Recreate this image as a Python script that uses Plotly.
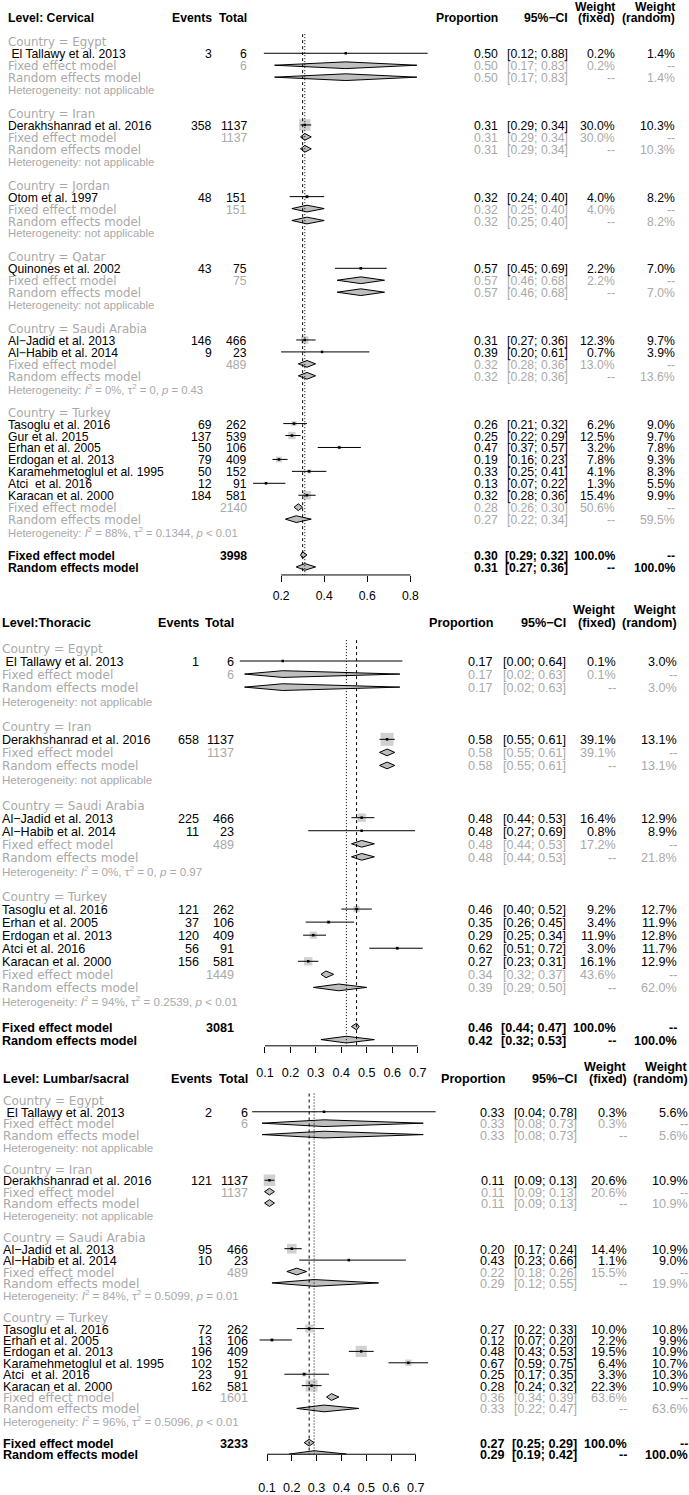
import math
import plotly.graph_objects as go

W, H = 689, 1495
NB = "\u00a0"
MINUS = "\u2212"

# ---------------- data ----------------
# (country, study, events, total, proportion, ci_low, ci_high, weight_fixed, weight_random)
CERV_STUDIES = [
    ("Egypt", NB + "El Tallawy et al. 2013", 3, 6, 0.50, 0.12, 0.88, 0.2, 1.4),
    ("Iran", "Derakhshanrad et al. 2016", 358, 1137, 0.31, 0.29, 0.34, 30.0, 10.3),
    ("Jordan", "Otom et al. 1997", 48, 151, 0.32, 0.24, 0.40, 4.0, 8.2),
    ("Qatar", "Quinones et al. 2002", 43, 75, 0.57, 0.45, 0.69, 2.2, 7.0),
    ("Saudi Arabia", "Al" + MINUS + "Jadid et al. 2013", 146, 466, 0.31, 0.27, 0.36, 12.3, 9.7),
    ("Saudi Arabia", "Al" + MINUS + "Habib et al. 2014", 9, 23, 0.39, 0.20, 0.61, 0.7, 3.9),
    ("Turkey", "Tasoglu et al. 2016", 69, 262, 0.26, 0.21, 0.32, 6.2, 9.0),
    ("Turkey", "Gur et al. 2015", 137, 539, 0.25, 0.22, 0.29, 12.5, 9.7),
    ("Turkey", "Erhan et al. 2005", 50, 106, 0.47, 0.37, 0.57, 3.2, 7.8),
    ("Turkey", "Erdogan et al. 2013", 79, 409, 0.19, 0.16, 0.23, 7.8, 9.3),
    ("Turkey", "Karamehmetoglul et al. 1995", 50, 152, 0.33, 0.25, 0.41, 4.1, 8.3),
    ("Turkey", "Atci" + NB + " et al. 2016", 12, 91, 0.13, 0.07, 0.22, 1.3, 5.5),
    ("Turkey", "Karacan et al. 2000", 184, 581, 0.32, 0.28, 0.36, 15.4, 9.9),
]
# (country, total, FE est, FE low, FE high, FE weight, RE est, RE low, RE high, RE weight, heterogeneity)
CERV_GROUPS = [
    ("Egypt", 6, 0.50, 0.17, 0.83, 0.2, 0.50, 0.17, 0.83, 1.4, None),
    ("Iran", 1137, 0.31, 0.29, 0.34, 30.0, 0.31, 0.29, 0.34, 10.3, None),
    ("Jordan", 151, 0.32, 0.25, 0.40, 4.0, 0.32, 0.25, 0.40, 8.2, None),
    ("Qatar", 75, 0.57, 0.46, 0.68, 2.2, 0.57, 0.46, 0.68, 7.0, None),
    ("Saudi Arabia", 489, 0.32, 0.28, 0.36, 13.0, 0.32, 0.28, 0.36, 13.6, ("0%", "0", "= 0.43")),
    ("Turkey", 2140, 0.28, 0.26, 0.30, 50.6, 0.27, 0.22, 0.34, 59.5, ("88%", "0.1344", "< 0.01")),
]
CERV_OVERALL = (3998, 0.30, 0.29, 0.32, 0.31, 0.27, 0.36, ("86%", "0.1038", "< 0.01"))

THOR_STUDIES = [
    ("Egypt", NB + "El Tallawy et al. 2013", 1, 6, 0.17, 0.00, 0.64, 0.1, 3.0),
    ("Iran", "Derakhshanrad et al. 2016", 658, 1137, 0.58, 0.55, 0.61, 39.1, 13.1),
    ("Saudi Arabia", "Al" + MINUS + "Jadid et al. 2013", 225, 466, 0.48, 0.44, 0.53, 16.4, 12.9),
    ("Saudi Arabia", "Al" + MINUS + "Habib et al. 2014", 11, 23, 0.48, 0.27, 0.69, 0.8, 8.9),
    ("Turkey", "Tasoglu et al. 2016", 121, 262, 0.46, 0.40, 0.52, 9.2, 12.7),
    ("Turkey", "Erhan et al. 2005", 37, 106, 0.35, 0.26, 0.45, 3.4, 11.9),
    ("Turkey", "Erdogan et al. 2013", 120, 409, 0.29, 0.25, 0.34, 11.9, 12.8),
    ("Turkey", "Atci et al. 2016", 56, 91, 0.62, 0.51, 0.72, 3.0, 11.7),
    ("Turkey", "Karacan et al. 2000", 156, 581, 0.27, 0.23, 0.31, 16.1, 12.9),
]
THOR_GROUPS = [
    ("Egypt", 6, 0.17, 0.02, 0.63, 0.1, 0.17, 0.02, 0.63, 3.0, None),
    ("Iran", 1137, 0.58, 0.55, 0.61, 39.1, 0.58, 0.55, 0.61, 13.1, None),
    ("Saudi Arabia", 489, 0.48, 0.44, 0.53, 17.2, 0.48, 0.44, 0.53, 21.8, ("0%", "0", "= 0.97")),
    ("Turkey", 1449, 0.34, 0.32, 0.37, 43.6, 0.39, 0.29, 0.50, 62.0, ("94%", "0.2539", "< 0.01")),
]
THOR_OVERALL = (3081, 0.46, 0.44, 0.47, 0.42, 0.32, 0.53, ("96%", "0.3591", "< 0.01"))

LUMB_STUDIES = [
    ("Egypt", NB + "El Tallawy et al. 2013", 2, 6, 0.33, 0.04, 0.78, 0.3, 5.6),
    ("Iran", "Derakhshanrad et al. 2016", 121, 1137, 0.11, 0.09, 0.13, 20.6, 10.9),
    ("Saudi Arabia", "Al" + MINUS + "Jadid et al. 2013", 95, 466, 0.20, 0.17, 0.24, 14.4, 10.9),
    ("Saudi Arabia", "Al" + MINUS + "Habib et al. 2014", 10, 23, 0.43, 0.23, 0.66, 1.1, 9.0),
    ("Turkey", "Tasoglu et al. 2016", 72, 262, 0.27, 0.22, 0.33, 10.0, 10.8),
    ("Turkey", "Erhan et al. 2005", 13, 106, 0.12, 0.07, 0.20, 2.2, 9.9),
    ("Turkey", "Erdogan et al. 2013", 196, 409, 0.48, 0.43, 0.53, 19.5, 10.9),
    ("Turkey", "Karamehmetoglul et al. 1995", 102, 152, 0.67, 0.59, 0.75, 6.4, 10.7),
    ("Turkey", "Atci" + NB + " et al. 2016", 23, 91, 0.25, 0.17, 0.35, 3.3, 10.3),
    ("Turkey", "Karacan et al. 2000", 162, 581, 0.28, 0.24, 0.32, 22.3, 10.9),
]
LUMB_GROUPS = [
    ("Egypt", 6, 0.33, 0.08, 0.73, 0.3, 0.33, 0.08, 0.73, 5.6, None),
    ("Iran", 1137, 0.11, 0.09, 0.13, 20.6, 0.11, 0.09, 0.13, 10.9, None),
    ("Saudi Arabia", 489, 0.22, 0.18, 0.26, 15.5, 0.29, 0.12, 0.55, 19.9, ("84%", "0.5099", "= 0.01")),
    ("Turkey", 1601, 0.36, 0.34, 0.39, 63.6, 0.33, 0.22, 0.47, 63.6, ("96%", "0.5096", "< 0.01")),
]
LUMB_OVERALL = (3233, 0.27, 0.25, 0.29, 0.29, 0.19, 0.42, ("97%", "0.7719", "< 0.01"))

CERV_TICKS = [0.2, 0.4, 0.6, 0.8]
THOR_TICKS = [0.1, 0.2, 0.3, 0.4, 0.5, 0.6, 0.7]
LUMB_TICKS = [0.1, 0.2, 0.3, 0.4, 0.5, 0.6, 0.7]

# ---------------- layout of the three panels (pixels) ----------------
PANELS = [
    dict(title="Level: Cervical", studies=CERV_STUDIES, groups=CERV_GROUPS, overall=CERV_OVERALL,
         ticks=CERV_TICKS, y0=17.6, dy=12.05, axis_px=580, top_px=0, x0px=238, x1px=453.5,
         label_x=8, ev_x=212, tot_x=247, prop_x=498, ci_x=568, wf_x=615, wr_x=675,
         standoff=3, fs=12.2, gfs=11.8, hfs=11.3, box=11.5),
    dict(title="Level:Thoracic", studies=THOR_STUDIES, groups=THOR_GROUPS, overall=THOR_OVERALL,
         ticks=THOR_TICKS, y0=627.3, dy=13.17, axis_px=1055, top_px=600, x0px=239.5, x1px=494,
         label_x=1.5, ev_x=199.3, tot_x=234.3, prop_x=493.3, ci_x=565.7, wf_x=615.7, wr_x=677.3,
         standoff=9, fs=12.6, gfs=12.1, hfs=11.6, box=13),
    dict(title="Level: Lumbar/sacral", studies=LUMB_STUDIES, groups=LUMB_GROUPS, overall=LUMB_OVERALL,
         ticks=LUMB_TICKS, y0=1087, dy=11.51, axis_px=1467, top_px=1062, x0px=242.2, x1px=490.2,
         label_x=3.3, ev_x=212.3, tot_x=247.7, prop_x=505, ci_x=577.3, wf_x=626.7, wr_x=687.7,
         standoff=16, fs=12.6, gfs=12.1, hfs=11.6, box=12),
]

FONT = "Liberation Sans, Arial, sans-serif"
GFONT = "DejaVu Sans, Liberation Sans, sans-serif"
GRAY_TXT = "#A9A9A9"
BOX_FILL = "#BEBEBE"
BLACK = "#000000"


def f2(v):
    return f"{v:.2f}"


def fci(lo, hi):
    return f"[{lo:.2f}; {hi:.2f}]"


def fw(w):
    return f"{w:.1f}%"


def het_text(h):
    if h is None:
        return "Heterogeneity: not applicable"
    i2, tau2, p = h
    p = p.replace("<", "&lt;")
    return (f"Heterogeneity: <i>I</i><sup>2</sup> = {i2}, \u03c4<sup>2</sup> = {tau2}, "
            f"<i>p</i> {p}")


fig = go.Figure()
annotations = []
shapes = []

for k, P in enumerate(PANELS, start=1):
    xa = "x" if k == 1 else f"x{k}"
    ya = "y" if k == 1 else f"y{k}"
    xkey = "xaxis" if k == 1 else f"xaxis{k}"
    ykey = "yaxis" if k == 1 else f"yaxis{k}"
    FS = P["fs"]

    def txt(row, xpx, text, anchor="right", color=BLACK, size=None, family=FONT, bold=False):
        if bold:
            text = f"<b>{text}</b>"
        annotations.append(dict(
            x=xpx / W, xref="paper", y=row, yref=ya, text=text, showarrow=False,
            xanchor=anchor, yanchor="middle", borderpad=0, borderwidth=0, yshift=-1,
            font=dict(family=family, size=size or FS, color=color)))

    # header
    txt(0, P["label_x"], P["title"], "left", bold=True)
    txt(0, P["ev_x"], "Events", bold=True)
    txt(0, P["tot_x"], "Total", bold=True)
    txt(0, P["prop_x"], "Proportion", bold=True)
    txt(0, P["ci_x"], "95%" + MINUS + "CI", bold=True)
    txt(-1, P["wf_x"], "Weight", bold=True)
    txt(0, P["wf_x"], "(fixed)", bold=True)
    txt(-1, P["wr_x"], "Weight", bold=True)
    txt(0, P["wr_x"], "(random)", bold=True)

    sq_x, sq_y, sq_s = [], [], []
    ln_x, ln_y = [], []
    dm_x, dm_y = [], []
    maxw = max(s[7] for s in P["studies"])
    hh = 3.4 / P["dy"]  # diamond half height in rows

    def diamond(row, est, lo, hi):
        dm_x.extend([lo, est, hi, est, lo, None])
        dm_y.extend([row, row - hh, row, row + hh, row, None])

    r = 2
    for g in P["groups"]:
        (cname, gtot, fe, fel, feh, few, re_, rel, reh, rew, het) = g
        txt(r, P["label_x"], f"Country = {cname}", "left", GRAY_TXT, P["gfs"], GFONT)
        r += 1
        for s in P["studies"]:
            if s[0] != cname:
                continue
            _, name, ev, tot, est, lo, hi, wf, wr = s
            txt(r, P["label_x"], name, "left")
            txt(r, P["ev_x"], str(ev))
            txt(r, P["tot_x"], str(tot))
            txt(r, P["prop_x"], f2(est))
            txt(r, P["ci_x"], fci(lo, hi))
            txt(r, P["wf_x"], fw(wf))
            txt(r, P["wr_x"], fw(wr))
            sq_x.append(est)
            sq_y.append(r)
            sq_s.append(max(1.0, P["box"] * math.sqrt(wf / maxw)))
            ln_x.extend([lo, hi, None])
            ln_y.extend([r, r, None])
            r += 1
        # subgroup fixed / random
        txt(r, P["label_x"], "Fixed effect model", "left", GRAY_TXT, P["gfs"], GFONT)
        txt(r, P["tot_x"], str(gtot), color=GRAY_TXT)
        txt(r, P["prop_x"], f2(fe), color=GRAY_TXT)
        txt(r, P["ci_x"], fci(fel, feh), color=GRAY_TXT)
        txt(r, P["wf_x"], fw(few), color=GRAY_TXT)
        txt(r, P["wr_x"], "--", color=GRAY_TXT)
        diamond(r, fe, fel, feh)
        r += 1
        txt(r, P["label_x"], "Random effects model", "left", GRAY_TXT, P["gfs"], GFONT)
        txt(r, P["prop_x"], f2(re_), color=GRAY_TXT)
        txt(r, P["ci_x"], fci(rel, reh), color=GRAY_TXT)
        txt(r, P["wf_x"], "--", color=GRAY_TXT)
        txt(r, P["wr_x"], fw(rew), color=GRAY_TXT)
        diamond(r, re_, rel, reh)
        r += 1
        txt(r, P["label_x"], het_text(het), "left", GRAY_TXT, P["hfs"])
        r += 2

    otot, ofe, ofel, ofeh, ore, orel, oreh, ohet = P["overall"]
    txt(r, P["label_x"], "Fixed effect model", "left", bold=True)
    txt(r, P["tot_x"], str(otot), bold=True)
    txt(r, P["prop_x"], f2(ofe), bold=True)
    txt(r, P["ci_x"], fci(ofel, ofeh), bold=True)
    txt(r, P["wf_x"], "100.0%", bold=True)
    txt(r, P["wr_x"], "--", bold=True)
    diamond(r, ofe, ofel, ofeh)
    txt(r + 1, P["label_x"], "Random effects model", "left", bold=True)
    txt(r + 1, P["prop_x"], f2(ore), bold=True)
    txt(r + 1, P["ci_x"], fci(orel, oreh), bold=True)
    txt(r + 1, P["wf_x"], "--", bold=True)
    txt(r + 1, P["wr_x"], "100.0%", bold=True)
    diamond(r + 1, ore, orel, oreh)
    txt(r + 2, P["label_x"], het_text(ohet), "left", BLACK, P["hfs"])

    # traces
    fig.add_trace(go.Scatter(x=sq_x, y=sq_y, mode="markers", xaxis=xa, yaxis=ya,
                             marker=dict(symbol="square", size=sq_s, color=BOX_FILL,
                                         line=dict(width=0)),
                             hoverinfo="skip", cliponaxis=False))
    fig.add_trace(go.Scatter(x=ln_x, y=ln_y, mode="lines", xaxis=xa, yaxis=ya,
                             line=dict(color=BLACK, width=1), hoverinfo="skip",
                             cliponaxis=False))
    fig.add_trace(go.Scatter(x=sq_x, y=sq_y, mode="markers", xaxis=xa, yaxis=ya,
                             marker=dict(symbol="square", size=2.5, color=BLACK,
                                         line=dict(width=0)),
                             hoverinfo="skip", cliponaxis=False))
    fig.add_trace(go.Scatter(x=dm_x, y=dm_y, mode="lines", fill="toself", xaxis=xa, yaxis=ya,
                             fillcolor=BOX_FILL, line=dict(color=BLACK, width=1),
                             hoverinfo="skip", cliponaxis=False))

    ybot = (P["axis_px"] - P["y0"]) / P["dy"]
    ytop = (P["top_px"] - P["y0"]) / P["dy"]

    # reference lines: fixed (dashed) and random (dotted)
    shapes.append(dict(type="line", xref=xa, yref=ya, x0=ofe, x1=ofe, y0=1.4, y1=ybot,
                       line=dict(color=BLACK, width=1, dash="3px,3px")))
    shapes.append(dict(type="line", xref=xa, yref=ya, x0=ore, x1=ore, y0=1.4, y1=ybot,
                       line=dict(color=BLACK, width=1, dash="1px,2px")))
    # axis baseline between first and last tick
    shapes.append(dict(type="line", xref=xa, yref=f"{ya} domain", x0=P["ticks"][0],
                       x1=P["ticks"][-1], y0=0, y1=0, line=dict(color=BLACK, width=1)))

    fig.layout[xkey] = dict(
        domain=[P["x0px"] / W, P["x1px"] / W], range=[0, 1], anchor=ya,
        showgrid=False, zeroline=False, showline=False,
        ticks="outside", ticklen=6, tickwidth=1, tickcolor=BLACK,
        tickmode="array", tickvals=P["ticks"], ticktext=[f"{t:.1f}" for t in P["ticks"]],
        tickfont=dict(family=FONT, size=FS, color=BLACK),
        ticklabelstandoff=P["standoff"], fixedrange=True)
    fig.layout[ykey] = dict(
        domain=[1 - P["axis_px"] / H, 1 - P["top_px"] / H], range=[ybot, ytop],
        showgrid=False, zeroline=False, showline=False, showticklabels=False,
        ticks="", fixedrange=True)

fig.update_layout(width=W, height=H, margin=dict(l=0, r=0, t=0, b=0),
                  paper_bgcolor="white", plot_bgcolor="white", showlegend=False,
                  annotations=annotations, shapes=shapes)

fig.write_html("out.html", config={"displayModeBar": False},
               post_script="document.body.style.margin='0';"
                           "document.body.style.overflow='hidden';")
